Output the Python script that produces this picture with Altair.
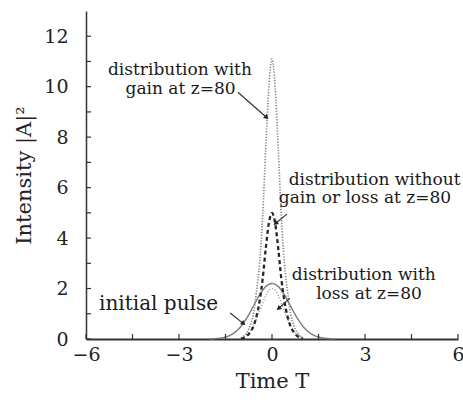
import math
import altair as alt
import pandas as pd

# ---- data ----
T_init = [-2.0, -1.8, -1.6, -1.4, -1.2, -1.0, -0.8, -0.6, -0.4, -0.2, 0.0,
          0.2, 0.4, 0.6, 0.8, 1.0, 1.2, 1.4, 1.6, 1.8, 2.0]
I_init = [0.0, 0.02, 0.05, 0.12, 0.26, 0.5, 0.86, 1.3, 1.75, 2.08, 2.2,
          2.08, 1.75, 1.3, 0.86, 0.5, 0.26, 0.12, 0.05, 0.02, 0.0]

T_fine = [-1.0, -0.9, -0.8, -0.7, -0.6, -0.5, -0.4, -0.3, -0.2, -0.1, 0.0,
          0.1, 0.2, 0.3, 0.4, 0.5, 0.6, 0.7, 0.8, 0.9, 1.0]
I_gain = [0.04, 0.12, 0.28, 0.55, 1.0, 1.9, 3.0, 4.9, 7.6, 10.0, 11.1,
          10.0, 7.6, 4.9, 3.0, 1.9, 1.0, 0.55, 0.28, 0.12, 0.04]
I_none = [0.01, 0.05, 0.13, 0.27, 0.5, 0.9, 1.5, 2.4, 3.6, 4.6, 5.0,
          4.6, 3.6, 2.4, 1.5, 0.9, 0.5, 0.27, 0.13, 0.05, 0.01]
I_loss = [0.05, 0.1, 0.19, 0.33, 0.53, 0.8, 1.1, 1.43, 1.72, 1.93, 2.0,
          1.93, 1.72, 1.43, 1.1, 0.8, 0.53, 0.33, 0.19, 0.1, 0.05]

label_text = ["distribution with", "gain at z=80",
              "distribution without", "gain or loss at z=80",
              "distribution with", "loss at z=80",
              "initial pulse"]
label_x = [-2.97, -2.95, 3.31, 3.0, 2.96, 3.13, -3.66]
label_y = [10.65, 9.9, 6.3, 5.58, 2.53, 1.78, 1.39]
label_size = [17, 17, 17, 17, 17, 17, 20]

arrow_x0 = [-1.10, 0.48, 0.58, -1.35]
arrow_y0 = [9.78, 4.95, 1.62, 1.03]
arrow_x1 = [-0.19, 0.13, 0.23, -0.94]
arrow_y1 = [8.8, 4.6, 1.23, 0.63]

x_ticks = [-6, -4.5, -3, -1.5, 0, 1.5, 3, 4.5, 6]
y_ticks = list(range(0, 13))

FONT = "DejaVu Serif"
W, H = 372, 328
XD, YD = (-6, 6), (0, 13)

# ---- build tables ----
curves = pd.concat([
    pd.DataFrame({"T": T_init, "I": I_init, "s": "init"}),
    pd.DataFrame({"T": T_fine, "I": I_gain, "s": "gain"}),
    pd.DataFrame({"T": T_fine, "I": I_none, "s": "none"}),
    pd.DataFrame({"T": T_fine, "I": I_loss, "s": "loss"}),
])
labels = pd.DataFrame({"t": label_text, "x": label_x, "y": label_y, "fs": label_size})
arrows = pd.DataFrame({"x": arrow_x0, "y": arrow_y0, "x2": arrow_x1, "y2": arrow_y1})
sx = W / (XD[1] - XD[0])
sy = H / (YD[1] - YD[0])
arrows["ang"] = [
    (math.degrees(math.atan2((b - a) * sx, (d - c) * sy))) % 360
    for a, b, c, d in zip(arrow_x0, arrow_x1, arrow_y0, arrow_y1)
]

xs = alt.Scale(domain=list(XD), nice=False, zero=False)
ys = alt.Scale(domain=list(YD), nice=False)

base_x = alt.X("T:Q", scale=xs,
               axis=alt.Axis(values=[-6, -3, 0, 3, 6], title="Time T", grid=False,
                             ticks=False, labelPadding=6, domainWidth=2,
                             domainColor="#333", labelFont=FONT, labelFontSize=19,
                             labelColor="#222", titleFont=FONT, titleFontSize=21,
                             titleFontWeight="normal", titleColor="#222",
                             titlePadding=6, labelFlush=False))
base_y = alt.Y("I:Q", scale=ys,
               axis=alt.Axis(values=[0, 2, 4, 6, 8, 10, 12], title="Intensity |A|²",
                             grid=False, ticks=False, labelPadding=18, domainColor="#333",
                             domainWidth=1.5,
                             labelFont=FONT, labelFontSize=19, labelColor="#222",
                             titleFont=FONT, titleFontSize=21, titleFontWeight="normal",
                             titleColor="#222", titlePadding=9))

def curve(name, color, dash, width):
    return alt.Chart(curves).transform_filter(alt.datum.s == name).mark_line(
        color=color, strokeDash=dash, strokeWidth=width, interpolate="monotone"
    ).encode(x=base_x, y=base_y)

init_line = curve("init", "#7a7a7a", [1, 0], 1.4)
gain_line = curve("gain", "#8a8a8a", [1.3, 1.5], 1.7)
loss_line = curve("loss", "#a8a8a8", [1.2, 1.8], 1.6)
none_line = curve("none", "#262626", [4, 3], 2.3)

xt = alt.Chart(pd.DataFrame({"v": x_ticks})).mark_rule(color="#333", strokeWidth=1.2).encode(
    x=alt.X("v:Q", scale=xs), y=alt.value(H), y2=alt.value(H - 5))
yt = alt.Chart(pd.DataFrame({"v": y_ticks})).mark_rule(color="#333", strokeWidth=1.2).encode(
    y=alt.Y("v:Q", scale=ys), x=alt.value(0), x2=alt.value(5))

arrow_lines = alt.Chart(arrows).mark_rule(color="#333", strokeWidth=1.2).encode(
    x=alt.X("x:Q", scale=xs), y=alt.Y("y:Q", scale=ys), x2="x2:Q", y2="y2:Q")
arrow_heads = alt.Chart(arrows).mark_point(shape="triangle", filled=True, color="#222",
                                           size=30, opacity=1).encode(
    x=alt.X("x2:Q", scale=xs), y=alt.Y("y2:Q", scale=ys),
    angle=alt.Angle("ang:Q", scale=None))

text = alt.Chart(labels).mark_text(font=FONT, color="#1a1a1a", align="center",
                                   baseline="middle").encode(
    x=alt.X("x:Q", scale=xs), y=alt.Y("y:Q", scale=ys), text="t:N",
    size=alt.Size("fs:Q", scale=None, legend=None))

chart = alt.layer(init_line, loss_line, gain_line, none_line, xt, yt,
                  arrow_lines, arrow_heads, text).properties(
    width=W, height=H,
    autosize=alt.AutoSizeParams(type="none"),
    padding={"left": 86, "top": 11, "right": 5, "bottom": 68},
    background="white",
).configure_view(stroke=None)

chart.save("out.html", embed_options={"renderer": "svg", "actions": False})
